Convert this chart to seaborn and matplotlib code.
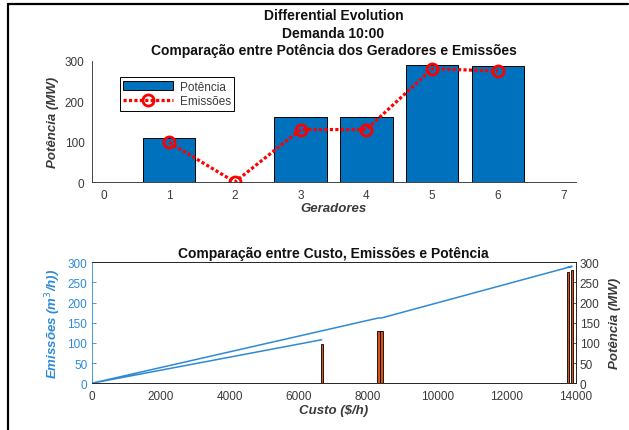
import matplotlib
matplotlib.use("Agg")
import matplotlib.pyplot as plt
from matplotlib.lines import Line2D
from matplotlib.patches import Patch
import seaborn as sns
import numpy as np

# ---- data ----
geradores = [1, 2, 3, 4, 5, 6]
potencia = [108, 0, 162, 162, 290, 288]
emissoes = [98, 0, 130, 130, 281, 275]
custo = [6660, 0, 8300, 8390, 13900, 13780]

top_xticks = [0, 1, 2, 3, 4, 5, 6, 7]
top_yticks = [0, 100, 200, 300]
bot_xticks = [0, 2000, 4000, 6000, 8000, 10000, 12000, 14000]
bot_yticks = [0, 50, 100, 150, 200, 250, 300]

sns.set_style("white")
plt.rcParams['font.family'] = ['Liberation Sans', 'DejaVu Sans']

BLUE = '#0072BD'
LBLUE = '#2f8ad6'
ORANGE = '#D95319'
GRAY = '#3a3a3a'

fig = plt.figure(figsize=(6.29, 4.31), dpi=100)

# outer frame lines
fig.add_artist(Line2D([8/629, 8/629], [0, 1 - 5/431], transform=fig.transFigure, color='black', lw=1.6))
fig.add_artist(Line2D([8/629, 628/629], [1 - 5/431, 1 - 5/431], transform=fig.transFigure, color='black', lw=1.6))

# ---------------- top axes ----------------
ax1 = fig.add_axes([91.5/629, 1 - 183/431, 484/629, 121/431])
sns.barplot(x=geradores, y=potencia, native_scale=True, width=0.8, color=BLUE,
            saturation=1, edgecolor='black', linewidth=0.7, ax=ax1)
sns.lineplot(x=geradores, y=emissoes, sort=False, color='red', linestyle=(0, (1, 0.7)), linewidth=2.3,
             marker='o', markersize=8, markerfacecolor='none', markeredgecolor='red',
             markeredgewidth=2, ax=ax1)
ax1.set_xlim(-0.18, 7.18)
ax1.set_ylim(0, 300)
ax1.set_xticks(top_xticks)
ax1.set_xticklabels([str(t) for t in top_xticks])
ax1.set_yticks(top_yticks)
for s in ['top', 'right']:
    ax1.spines[s].set_visible(False)
for s in ['left', 'bottom']:
    ax1.spines[s].set_color('#262626')
    ax1.spines[s].set_linewidth(0.6)
ax1.tick_params(direction='in', length=3, width=0.6, colors=GRAY, labelsize=8.5, pad=5)
ax1.set_xlabel('Geradores', fontsize=9.5, fontweight='bold', fontstyle='italic', color=GRAY, labelpad=1)
ax1.set_ylabel('Potência (MW)', fontsize=9.5, fontweight='bold', fontstyle='italic', color=GRAY, labelpad=4)
ax1.set_title('Differential Evolution\nDemanda 10:00\nComparação entre Potência dos Geradores e Emissões',
              fontsize=10, fontweight='bold', color='#111111', linespacing=1.32, pad=5)
handles = [Patch(facecolor=BLUE, edgecolor='black', linewidth=0.7),
           Line2D([], [], color='red', linestyle=(0, (1, 0.7)), linewidth=2.3, marker='o', markersize=8,
                  markerfacecolor='none', markeredgecolor='red', markeredgewidth=2)]
leg = ax1.legend(handles, ['Potência', 'Emissões'], loc='upper left',
                 bbox_to_anchor=((119.5 - 91.5)/484, 1 - (78 - 62)/121), fontsize=8.5,
                 frameon=True, fancybox=False, edgecolor='black', framealpha=1,
                 handlelength=4.2, handletextpad=0.6, borderpad=0.3, labelspacing=0.25,
                 borderaxespad=0)
leg.get_frame().set_linewidth(0.7)
for t in leg.get_texts():
    t.set_color(GRAY)

# ---------------- bottom axes ----------------
ax2 = fig.add_axes([91.5/629, 1 - 384.3/431, 484/629, 121/431])
sns.lineplot(x=custo, y=potencia, sort=False, estimator=None, color=LBLUE, linewidth=1.1, ax=ax2)
ax2.set_xlim(0, 14000)
ax2.set_ylim(0, 300)
ax2.set_xticks(bot_xticks)
ax2.set_yticks(bot_yticks)
ax2.tick_params(axis='x', direction='in', length=3, width=0.6, colors=GRAY, labelsize=8.5, pad=5)
ax2.tick_params(axis='y', direction='in', length=3, width=0.6, colors=LBLUE, labelsize=8.5, pad=3)
ax2.spines['left'].set_color(LBLUE)
ax2.spines['top'].set_color('#262626')
ax2.spines['bottom'].set_color('#262626')
for s in ax2.spines.values():
    s.set_linewidth(0.6)
ax2.set_xlabel('Custo ($/h)', fontsize=9.5, fontweight='bold', fontstyle='italic', color=GRAY, labelpad=1)
ax2.set_ylabel('Emissões (m$^3$/h))', fontsize=9.5, fontweight='bold', fontstyle='italic', color=LBLUE, labelpad=3)
ax2.set_title('Comparação entre Custo, Emissões e Potência', fontsize=10, fontweight='bold',
              color='#111111', pad=4)

ax3 = ax2.twinx()
sns.barplot(x=custo, y=emissoes, native_scale=True, width=0.8, color=ORANGE, saturation=1,
            edgecolor='black', linewidth=0.6, ax=ax3)
ax3.set_xlim(0, 14000)
ax3.set_ylim(0, 300)
ax3.set_yticks(bot_yticks)
ax3.tick_params(axis='y', direction='in', length=3, width=0.6, colors=GRAY, labelsize=8.5, pad=3)
ax3.spines['right'].set_color('#262626')
ax3.spines['left'].set_visible(False)
for s in ax3.spines.values():
    s.set_linewidth(0.6)
ax3.set_ylabel('Potência (MW)', fontsize=9.5, fontweight='bold', fontstyle='italic', color=GRAY, labelpad=7)
ax3.set_xticks(bot_xticks)
ax3.set_xticklabels([str(t) for t in bot_xticks])

fig.savefig('out.png', dpi=100)
